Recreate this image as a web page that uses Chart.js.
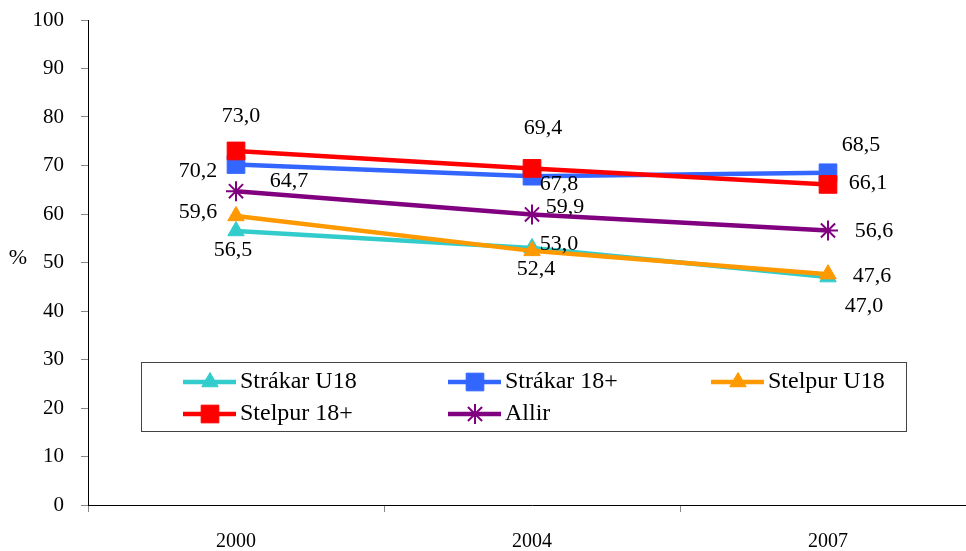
<!DOCTYPE html>
<html>
<head>
<meta charset="utf-8">
<script src="https://cdn.jsdelivr.net/npm/chart.js"></script>
<style>
  html, body { margin: 0; padding: 0; background: #fff; overflow: hidden; }
  #wrap { position: relative; width: 990px; height: 551px; }
</style>
</head>
<body>
<div id="wrap"><canvas id="chart" width="990" height="551"></canvas></div>
<script>
// Data
const years = ['2000', '2004', '2007'];
const strakarU18 = [56.5, 53.0, 47.0];
const strakar18 = [70.2, 67.8, 68.5];
const stelpurU18 = [59.6, 52.4, 47.6];
const stelpur18 = [73.0, 69.4, 66.1];
const allir = [64.7, 59.9, 56.6];
const seriesNames = ['Strákar U18', 'Strákar 18+', 'Stelpur U18', 'Stelpur 18+', 'Allir'];

const FONT = '"Liberation Serif", "Times New Roman", serif';

// Where each value label sits relative to its point (pixels)
const labelOffsets = [
    [[-3, 19], [27, -4], [36, 29]],
    [[-38, 7], [27, 8], [33, -28]],
    [[-38, -4], [4, 18], [44, 2]],
    [[5, -35], [11, -40], [40, -1]],
    [[53, -10], [33, -7], [46, 1]]
];

const makeSet = (label, data, color, style, radius, order, pbw) => ({
    label: label,
    data: data,
    borderColor: color,
    backgroundColor: color,
    borderWidth: 4.5,
    pointStyle: style,
    pointRadius: radius,
    pointHoverRadius: radius,
    pointBorderWidth: pbw,
    pointBackgroundColor: color,
    pointBorderColor: color,
    tension: 0,
    order: order
});

const datasets = [
    makeSet(seriesNames[0], strakarU18, '#33CCCC', 'triangle', 9.5, 5, 1),
    makeSet(seriesNames[1], strakar18, '#3366FF', 'rect', 12.5, 4, 1),
    makeSet(seriesNames[2], stelpurU18, '#FF9900', 'triangle', 9.5, 3, 1),
    makeSet(seriesNames[3], stelpur18, '#FF0000', 'rect', 12.5, 2, 1),
    makeSet(seriesNames[4], allir, '#800080', 'star', 10, 1, 2)
];

const fmt = v => v.toFixed(1).replace('.', ',');

// Value labels next to every point
const valueLabels = {
    id: 'valueLabels',
    afterDatasetsDraw(chart) {
        const ctx = chart.ctx;
        ctx.save();
        ctx.font = '22px ' + FONT;
        ctx.fillStyle = '#000';
        ctx.textAlign = 'center';
        ctx.textBaseline = 'middle';
        chart.data.datasets.forEach((ds, i) => {
            const meta = chart.getDatasetMeta(i);
            meta.data.forEach((pt, j) => {
                const off = labelOffsets[i][j];
                ctx.fillText(fmt(ds.data[j]), pt.x + off[0], pt.y + off[1]);
            });
        });
        ctx.restore();
    }
};

// Boxed legend inside the plot, plus the "%" axis title
const boxLegend = {
    id: 'boxLegend',
    afterDraw(chart) {
        const ctx = chart.ctx;
        ctx.save();
        ctx.fillStyle = '#fff';
        ctx.fillRect(141, 362, 765, 69);
        ctx.strokeStyle = '#444';
        ctx.lineWidth = 1;
        ctx.strokeRect(141.5, 362.5, 765, 69);

        const cols = [183, 448, 711];
        const rows = [382, 414];
        ctx.font = '24px ' + FONT;
        ctx.textBaseline = 'middle';
        ctx.textAlign = 'left';
        chart.data.datasets.forEach((ds, i) => {
            const x = cols[i % 3];
            const y = rows[Math.floor(i / 3)];
            ctx.strokeStyle = ds.borderColor;
            ctx.lineWidth = ds.borderWidth;
            ctx.beginPath();
            ctx.moveTo(x, y);
            ctx.lineTo(x + 53, y);
            ctx.stroke();
            ctx.fillStyle = ds.pointBackgroundColor;
            ctx.strokeStyle = ds.pointBorderColor;
            ctx.lineWidth = ds.pointBorderWidth;
            Chart.helpers.drawPoint(ctx, {
                pointStyle: ds.pointStyle,
                radius: ds.pointRadius,
                borderWidth: ds.pointBorderWidth,
                rotation: 0
            }, x + 27, y);
            ctx.fillStyle = '#000';
            ctx.fillText(ds.label, x + 57, y);
        });

        ctx.font = '22px ' + FONT;
        ctx.textAlign = 'center';
        ctx.fillText('%', 18, 258);
        ctx.restore();
    }
};

new Chart(document.getElementById('chart'), {
    type: 'line',
    data: { labels: years, datasets: datasets },
    options: {
        responsive: false,
        animation: false,
        layout: { padding: { top: 20, right: 14, left: 0, bottom: 0 } },
        plugins: {
            legend: { display: false },
            tooltip: { enabled: false }
        },
        scales: {
            x: {
                offset: true,
                afterFit: s => { s.height = 46; s.paddingLeft = 0; s.paddingRight = 0; },
                grid: { display: true, drawOnChartArea: false, offset: true, tickLength: 7, color: '#888' },
                border: { color: '#000', width: 1 },
                ticks: { color: '#000', font: { family: FONT, size: 20 }, padding: 18, maxRotation: 0 }
            },
            y: {
                min: 0,
                max: 100,
                afterFit: s => { s.width = 88; s.paddingTop = 0; s.paddingBottom = 0; },
                grid: { display: true, drawOnChartArea: false, tickLength: 7, color: '#888' },
                border: { color: '#000', width: 1 },
                ticks: { stepSize: 10, color: '#000', font: { family: FONT, size: 21 }, padding: 17 }
            }
        }
    },
    plugins: [valueLabels, boxLegend]
});
</script>
</body>
</html>
